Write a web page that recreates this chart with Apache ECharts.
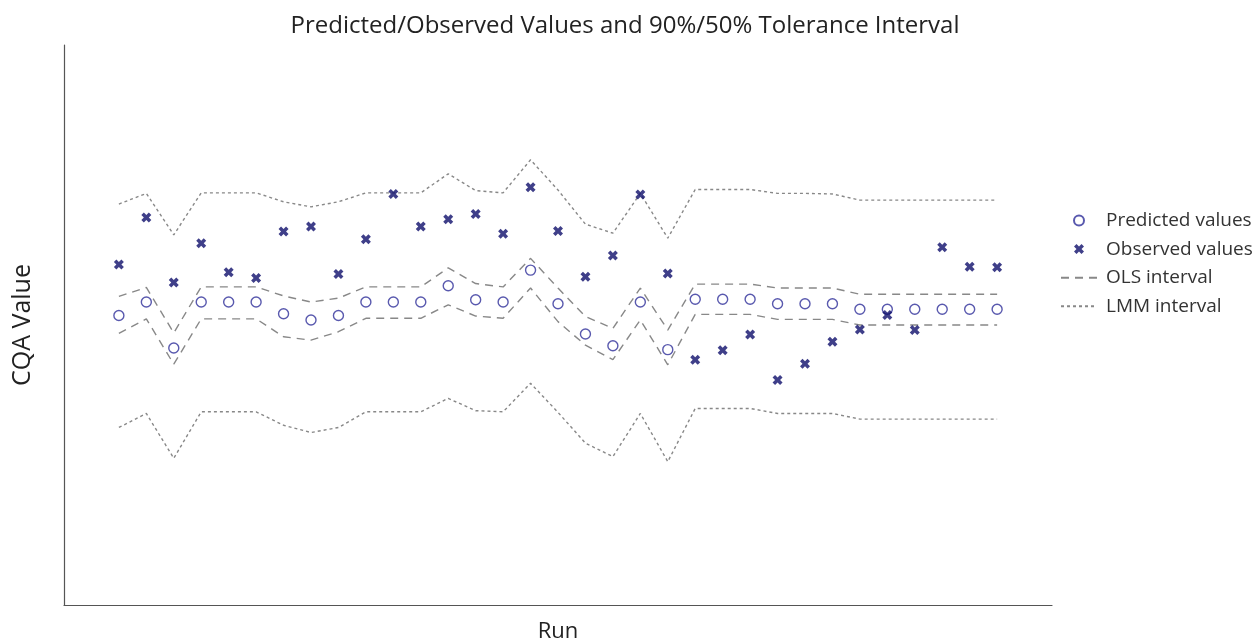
<!DOCTYPE html>
<html>
<head>
<meta charset="utf-8">
<script src="https://cdn.jsdelivr.net/npm/echarts@6/dist/echarts.min.js"></script>
<style>
html,body{margin:0;padding:0;background:#fff;}
#chart{width:1255px;height:641px;}
</style>
</head>
<body>
<div id="chart"></div>
<script>
const runs = [1,2,3,4,5,6,7,8,9,10,11,12,13,14,15,16,17,18,19,20,21,22,23,24,25,26,27,28,29,30,31,32,33];
const predicted = [51.7,54.1,45.9,54.1,54.1,54.1,52.0,50.9,51.7,54.1,54.1,54.1,57.0,54.5,54.1,59.8,53.8,48.4,46.3,54.1,45.6,54.6,54.6,54.6,53.8,53.8,53.8,52.8,52.8,52.8,52.8,52.8,52.8];
const observed = [60.8,69.2,57.6,64.6,59.4,58.4,66.7,67.6,59.1,65.3,73.4,67.6,68.9,69.8,66.3,74.6,66.8,58.6,62.4,73.3,59.2,43.8,45.5,48.3,40.2,43.1,47.0,49.2,51.8,49.1,63.9,60.4,60.3];
const olsUpper = [55.1,56.7,48.6,56.8,56.8,56.8,55.2,54.1,54.8,56.8,56.8,56.8,60.2,57.4,56.8,61.9,56.6,51.5,49.4,56.6,49.1,57.3,57.3,57.3,56.6,56.6,56.6,55.5,55.5,55.5,55.5,55.5,55.5];
const olsLower = [48.5,51.1,43.0,51.1,51.1,51.1,47.9,47.3,48.8,51.2,51.2,51.2,53.6,51.6,51.2,56.6,50.6,46.4,43.8,50.9,42.9,51.9,51.9,51.9,51.0,51.0,51.0,50.0,50.0,50.0,50.0,50.0,50.0];
const lmmUpper = [71.6,73.5,66.1,73.6,73.6,73.6,72.0,71.1,72.0,73.6,73.6,73.6,77.0,74.0,73.6,79.5,74.1,68.0,66.4,73.5,65.5,74.2,74.2,74.2,73.5,73.5,73.4,72.3,72.3,72.3,72.3,72.3,72.3];
const lmmLower = [31.7,34.2,26.2,34.5,34.5,34.5,32.1,30.8,31.7,34.5,34.5,34.5,36.9,34.7,34.5,39.6,34.4,28.9,26.5,34.2,25.6,35.1,35.1,35.1,34.2,34.2,34.2,33.2,33.2,33.2,33.2,33.2,33.2];

const seriesNames = ['Predicted values','Observed values','OLS interval','LMM interval'];
const titleText = 'Predicted/Observed Values and 90%/50% Tolerance Interval';

function pairs(vals){ return runs.map((r,i)=>[r, vals[i]]); }

const FONT = '"Open Sans", "Noto Sans", sans-serif';
const lineColor = '#888888';
const xPath = 'path://M0,2.5 L2.5,0 L5,2.5 L7.5,0 L10,2.5 L7.5,5 L10,7.5 L7.5,10 L5,7.5 L2.5,10 L0,7.5 L2.5,5 Z';

const chart = echarts.init(document.getElementById('chart'), null, {renderer:'canvas'});
function lineSeries(name, vals, dash){
  return {
    name: name, type: 'line', data: pairs(vals), symbol: 'none', z: 2,
    lineStyle: {color: lineColor, width: 1.4, type: dash},
    itemStyle: {color: lineColor}
  };
}
chart.setOption({
  animation: false,
  backgroundColor: '#fff',
  textStyle: {fontFamily: FONT},
  title: {
    text: titleText, left: 620, textAlign: 'center', top: 9,
    textStyle: {fontFamily: FONT, fontSize: 24, fontWeight: 'normal', color: '#222'}
  },
  legend: {
    data: [
      {name: seriesNames[0]},
      {name: seriesNames[1]},
      {name: seriesNames[2], itemStyle: {opacity: 0}},
      {name: seriesNames[3], itemStyle: {opacity: 0}}
    ],
    orient: 'vertical', left: 1055, top: 206,
    itemWidth: 36, itemHeight: 10, itemGap: 9.6,
    textStyle: {fontFamily: FONT, fontSize: 19, color: '#333', padding: [0,0,0,4]}
  },
  grid: {left: 64, right: 203, top: 45, bottom: 36, outerBoundsMode: 'none', containLabel: false},
  xAxis: {
    type: 'value', min: -1, max: 35, name: 'Run', nameLocation: 'middle', nameGap: 16,
    nameTextStyle: {fontFamily: FONT, fontSize: 22, color: '#222', verticalAlign: 'top'},
    axisLine: {show: true, onZero: false, lineStyle: {color: '#555', width: 1.2}},
    axisTick: {show: false}, axisLabel: {show: false}, splitLine: {show: false}
  },
  yAxis: {
    type: 'value', min: 0, max: 100, name: 'CQA Value', nameLocation: 'middle', nameGap: 29,
    nameTextStyle: {fontFamily: FONT, fontSize: 25, color: '#222'},
    axisLine: {show: true, onZero: false, lineStyle: {color: '#555', width: 1.2}},
    axisTick: {show: false}, axisLabel: {show: false}, splitLine: {show: false}
  },
  series: [
    {
      name: seriesNames[0], type: 'scatter', data: pairs(predicted), z: 5,
      symbol: 'circle', symbolSize: 10,
      itemStyle: {color: 'rgba(255,255,255,0)', borderColor: '#30309a', borderWidth: 1.4}
    },
    {
      name: seriesNames[1], type: 'scatter', data: pairs(observed), z: 6,
      symbol: xPath, symbolSize: 10,
      itemStyle: {color: '#0f0f6b'}
    },
    lineSeries(seriesNames[2], olsUpper, [8,6]),
    lineSeries(seriesNames[2], olsLower, [8,6]),
    lineSeries(seriesNames[3], lmmUpper, [3,3]),
    lineSeries(seriesNames[3], lmmLower, [3,3])
  ]
});
</script>
</body>
</html>
